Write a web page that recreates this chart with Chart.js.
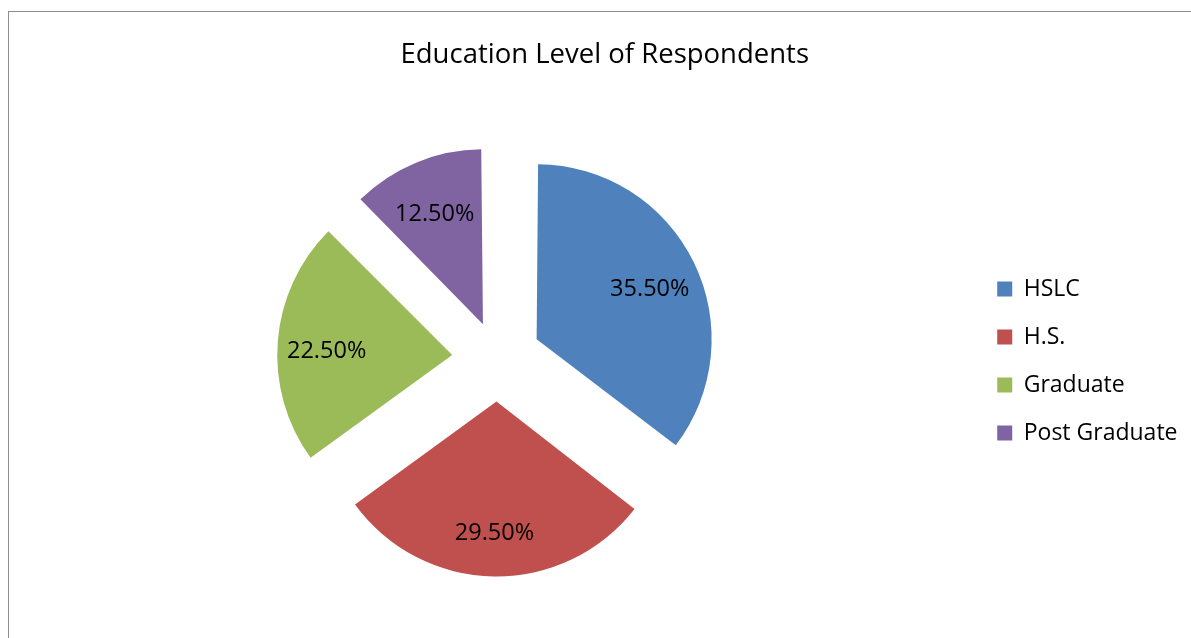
<!DOCTYPE html>
<html>
<head>
<meta charset="utf-8">
<script src="https://cdn.jsdelivr.net/npm/chart.js@4.4.0/dist/chart.umd.min.js"></script>
<style>
  html, body { margin: 0; padding: 0; background: #fff; overflow: hidden; }
  #wrap { position: relative; width: 1191px; height: 638px; }
  #frame { position: absolute; left: 8px; top: 11px; right: -4px; bottom: -4px; border: 1.5px solid #8c8c8c; }
  canvas { position: absolute; left: 0; top: 0; }
</style>
</head>
<body>
<div id="wrap">
  <div id="frame"></div>
  <canvas id="pie" width="1191" height="638"></canvas>
</div>
<script>
// ---------------- Data ----------------
const categories = ["HSLC", "H.S.", "Graduate", "Post Graduate"];
const shares = [35.5, 29.5, 22.5, 12.5];
const sliceColors = ["#4F81BD", "#C0504D", "#9BBB59", "#8064A2"];

const FONT = "'Open Sans', 'Noto Sans', sans-serif";
const explode = [44, 43, 45, 37];   // px each slice is pushed out
const RADIUS = 175;

// chart.js pushes arcs out by offset/4 and also grows small slices a bit,
// so take that growth back off to keep every slice the same radius
const evenRadius = {
  id: "evenRadius",
  afterDatasetsUpdate(chart) {
    chart.getDatasetMeta(0).data.forEach((arc, i) => {
      const fix = 1 - Math.sin(Math.min(Math.PI, arc.circumference || 0));
      arc.outerRadius = RADIUS - explode[i] * fix;
    });
  },
};

// percent labels inside each slice
const sliceLabels = {
  id: "sliceLabels",
  afterDatasetsDraw(chart) {
    const ctx = chart.ctx;
    const meta = chart.getDatasetMeta(0);
    ctx.save();
    ctx.font = "23.5px " + FONT;
    ctx.fillStyle = "#000";
    ctx.textAlign = "center";
    ctx.textBaseline = "middle";
    meta.data.forEach((arc, i) => {
      const mid = (arc.startAngle + arc.endAngle) / 2;
      const dist = explode[i] + RADIUS * 0.72;
      const x = arc.x + Math.cos(mid) * dist;
      const y = arc.y + Math.sin(mid) * dist + 6;
      ctx.fillText(shares[i].toFixed(2) + "%", x, y);
    });
    ctx.restore();
  },
};

new Chart(document.getElementById("pie"), {
  type: "pie",
  data: {
    labels: categories,
    datasets: [
      {
        data: shares,
        backgroundColor: sliceColors,
        borderWidth: 0,
        offset: explode.map((e) => e * 4),
        hoverOffset: 0,
      },
    ],
  },
  options: {
    responsive: false,
    animation: false,
    radius: RADIUS,
    layout: { padding: { left: 22, right: 3.5, top: 0, bottom: 0 } },
    plugins: {
      title: {
        display: true,
        text: "Education Level of Respondents",
        color: "#000",
        font: { family: FONT, size: 27.5, weight: "normal", lineHeight: 1.2 },
        padding: { top: 38.5, bottom: 7.5 },
      },
      legend: {
        position: "right",
        fullSize: false,
        title: { display: true, text: "", font: { size: 1 }, padding: 2 },
        labels: {
          color: "#000",
          boxWidth: 15,
          boxHeight: 15,
          padding: 25,
          font: { family: FONT, size: 23 },
        },
      },
      tooltip: { enabled: false },
    },
  },
  plugins: [evenRadius, sliceLabels],
});
</script>
</body>
</html>
